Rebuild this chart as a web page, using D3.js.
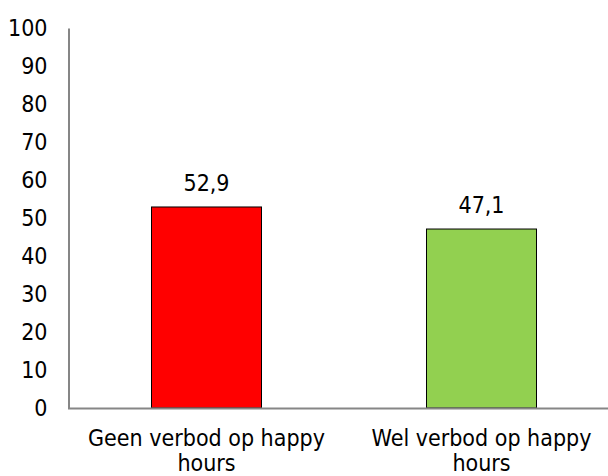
<!DOCTYPE html>
<html>
<head>
<meta charset="utf-8">
<script src="https://cdn.jsdelivr.net/npm/d3@7"></script>
<style>
  body { margin: 0; background: #fff; }
  text { font-family: "DejaVu Sans Condensed", "DejaVu Sans", Verdana, sans-serif; fill: #000; }
</style>
</head>
<body>
<div id="chart"></div>
<script>
// Data
const categories = [["Geen verbod op happy", "hours"], ["Wel verbod op happy", "hours"]];
const values = [52.9, 47.1];
const valueLabels = ["52,9", "47,1"];
const barColors = ["#ff0000", "#92d050"];
const yTicks = [0, 10, 20, 30, 40, 50, 60, 70, 80, 90, 100];

const width = 608, height = 476;
const fontSize = "23px";

const svg = d3.select("#chart")
  .append("svg")
  .attr("width", width)
  .attr("height", height);

const x = d3.scaleBand()
  .domain(d3.range(values.length))
  .range([69, 619])
  .paddingInner(0.6)
  .paddingOuter(0.3);

const y = d3.scaleLinear()
  .domain([0, 100])
  .range([408, 28]);

// Bars
svg.selectAll("rect.bar")
  .data(values)
  .enter().append("rect")
  .attr("class", "bar")
  .attr("x", (d, i) => x(i))
  .attr("y", d => y(d))
  .attr("width", x.bandwidth())
  .attr("height", d => y(0) - y(d))
  .attr("fill", (d, i) => barColors[i])
  .attr("stroke", "#000")
  .attr("stroke-width", 1);

// Value labels
svg.selectAll("text.val")
  .data(values)
  .enter().append("text")
  .attr("class", "val")
  .attr("x", (d, i) => x(i) + x.bandwidth() / 2)
  .attr("y", d => y(d) - 24)
  .attr("dy", "0.35em")
  .attr("text-anchor", "middle")
  .style("font-size", fontSize)
  .text((d, i) => valueLabels[i]);

// Y axis
const yAxis = svg.append("g")
  .attr("transform", "translate(68.5,0)")
  .call(d3.axisLeft(y).tickValues(yTicks).tickSize(0).tickPadding(21));
yAxis.select(".domain").attr("stroke", "#868686").attr("stroke-width", 2);
yAxis.selectAll("text")
  .style("font-size", fontSize)
  .style("font-family", '"DejaVu Sans Condensed", "DejaVu Sans", sans-serif')
  .attr("fill", "#000");

// X axis line
svg.append("line")
  .attr("x1", 68).attr("x2", width)
  .attr("y1", y(0) + 0.5).attr("y2", y(0) + 0.5)
  .attr("stroke", "#868686").attr("stroke-width", 2);

// Category labels
const catLabels = svg.selectAll("text.cat")
  .data(categories)
  .enter().append("text")
  .attr("class", "cat")
  .attr("x", (d, i) => x(i) + x.bandwidth() / 2)
  .attr("y", 438)
  .attr("text-anchor", "middle")
  .style("font-size", fontSize);
catLabels.selectAll("tspan")
  .data(d => d)
  .enter().append("tspan")
  .attr("x", function () { return this.parentNode.getAttribute("x"); })
  .attr("dy", (d, i) => i === 0 ? "0.35em" : "25px")
  .text(d => d);
</script>
</body>
</html>
